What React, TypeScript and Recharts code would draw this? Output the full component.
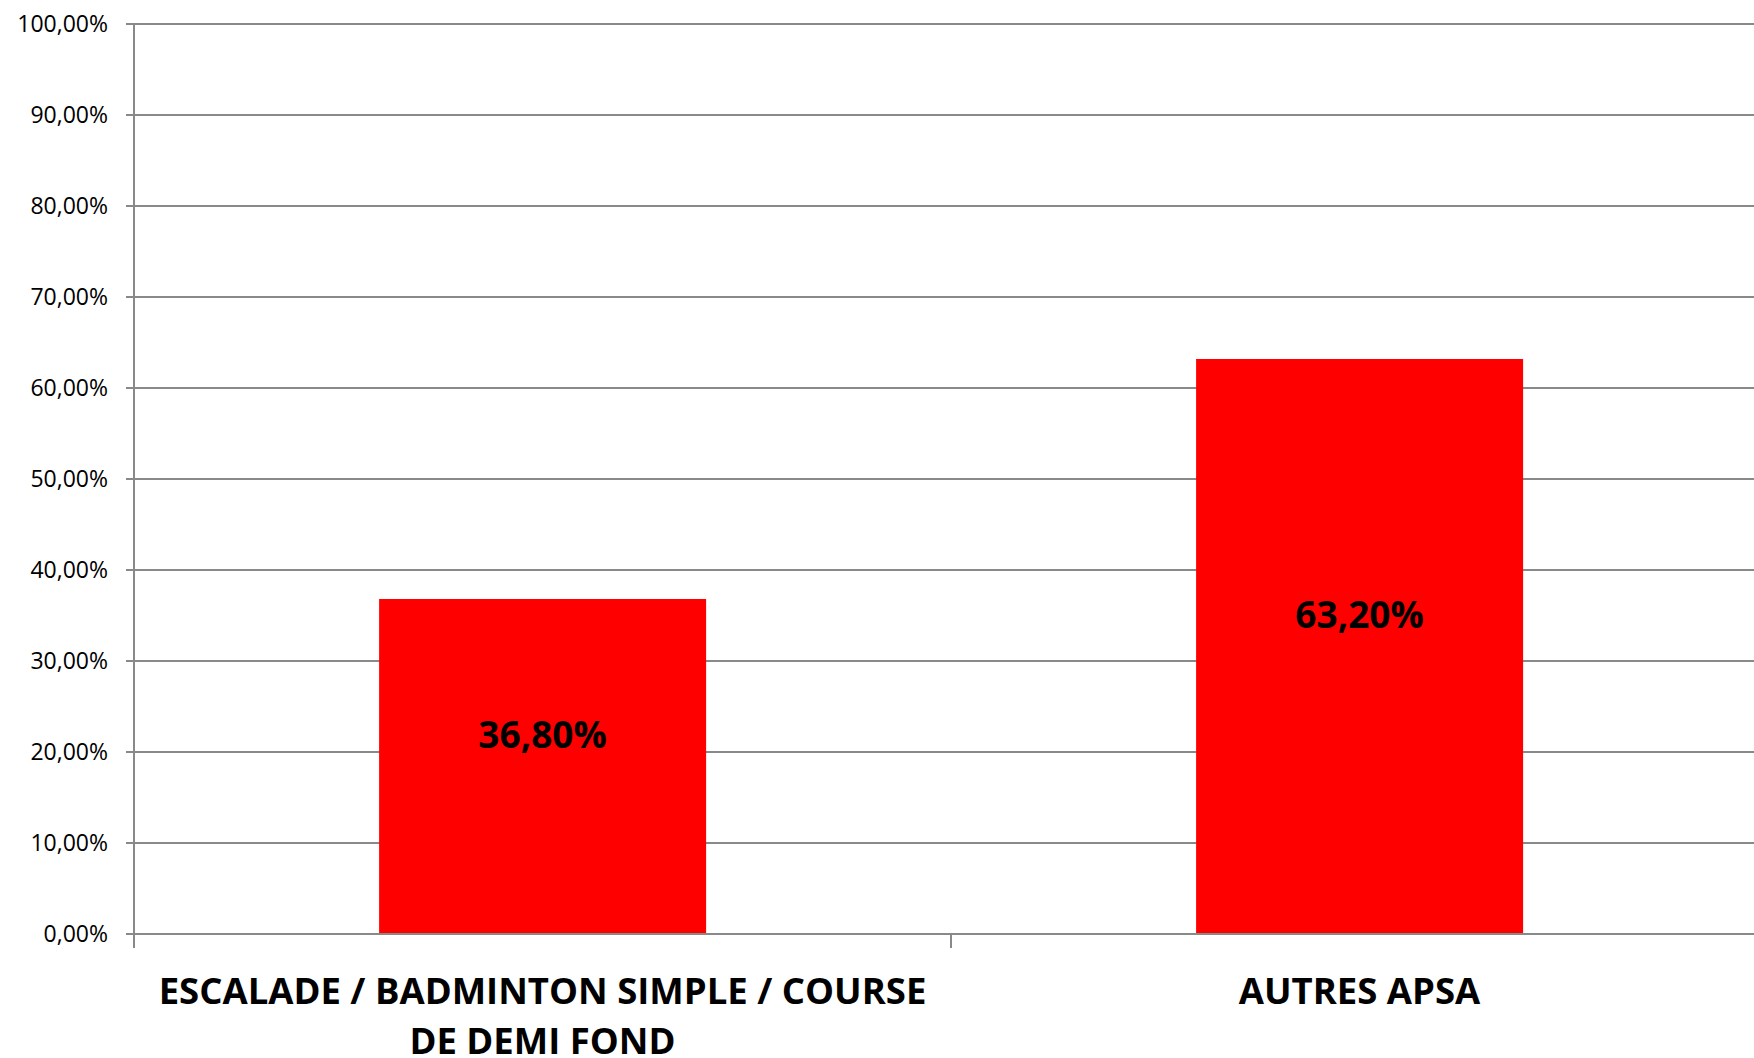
import React from "react";
import { BarChart, Bar, XAxis, YAxis, CartesianGrid, LabelList } from "recharts";

const categories = ["ESCALADE / BADMINTON SIMPLE / COURSE\nDE DEMI FOND", "AUTRES APSA"];
const values = [0.368, 0.632];
const yTicks = [0, 0.1, 0.2, 0.3, 0.4, 0.5, 0.6, 0.7, 0.8, 0.9, 1];

const data = categories.map((c, i) => ({ name: c, value: values[i] }));

const CHART_W = 1800;
const CHART_H = 1058;
const Y_AXIS_W = 134;
const MARGIN_R = 32;
const PLOT_W = CHART_W - Y_AXIS_W - MARGIN_R;
const HALF_BAND = PLOT_W / categories.length / 2;
const GRID = "#898989";
const FONT = "'Open Sans', sans-serif";

const fmtPct = (v: number) => (v * 100).toFixed(2).replace(".", ",") + "%";

const XTick = (props: any) => {
  const { x, y, payload } = props;
  const lines = String(payload.value).split("\n");
  return (
    <g>
      <line x1={x - HALF_BAND} x2={x - HALF_BAND} y1={y - 14} y2={y} stroke={GRID} strokeWidth={2} />
      <text x={x} y={y} textAnchor="middle" fontFamily={FONT} fontWeight={700} fontSize={36.5} fill="#000">
        {lines.map((l, i) => (
          <tspan key={i} x={x} y={y + 42 + i * 50} dominantBaseline="central">
            {l}
          </tspan>
        ))}
      </text>
    </g>
  );
};

const BarLabel = (props: any) => {
  const { x, y, width, height, value } = props;
  const cx = Number(x) + Number(width) / 2;
  const cy = Number(y) + Number(height) / 2 - 33;
  return (
    <text x={cx} y={cy} textAnchor="middle" dominantBaseline="central" fontFamily={FONT} fontWeight={700} fontSize={37} fill="#000">
      {fmtPct(Number(value))}
    </text>
  );
};

export default function App() {
  return (
    <div style={{ position: "fixed", left: 0, top: 0, width: 1754, height: 1058, overflow: "hidden", background: "#fff" }}>
      <BarChart
        width={CHART_W}
        height={CHART_H}
        data={data}
        margin={{ top: 24, right: MARGIN_R, bottom: 0, left: 0 }}
        barCategoryGap="30%"
      >
        <CartesianGrid horizontal vertical={false} stroke={GRID} strokeWidth={2} />
        <XAxis
          dataKey="name"
          type="category"
          height={124}
          tickSize={14}
          tickMargin={0}
          tickLine={false}
          axisLine={{ stroke: GRID, strokeWidth: 2 }}
          tick={<XTick />}
          interval={0}
        />
        <YAxis
          width={Y_AXIS_W}
          domain={[0, 1]}
          ticks={yTicks}
          tickFormatter={fmtPct}
          tickSize={8}
          tickMargin={18}
          axisLine={{ stroke: GRID, strokeWidth: 2 }}
          tickLine={{ stroke: GRID, strokeWidth: 2 }}
          tick={{ fontFamily: FONT, fontSize: 23, fill: "#000" }}
          interval={0}
        />
        <Bar dataKey="value" fill="#FF0000" isAnimationActive={false}>
          <LabelList dataKey="value" content={<BarLabel />} />
        </Bar>
      </BarChart>
    </div>
  );
}
